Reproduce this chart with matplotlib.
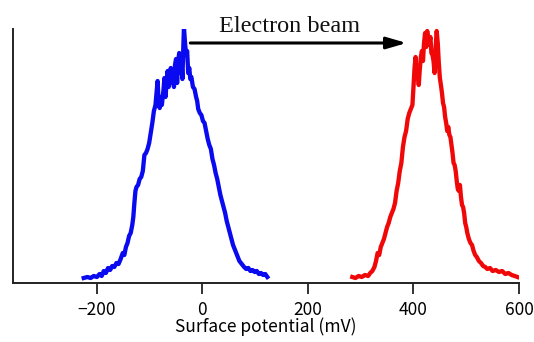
import matplotlib
matplotlib.use("Agg")
import matplotlib.pyplot as plt

blue_x = [-225,-218,-212,-206,-200,-195,-191,-187,-183,-179,-175,-171,-167,-163,-159,-155,-151,-148,-145,-142,-139,-136,-133,-131,-129,-127,-125,-122,-119,-116,-113,-110,-107,-104,-101,-98,-95,-92,-89,-87,-85,-83,-81,-79,-77,-74,-72,-70,-68,-66,-64,-62,-60,-58,-56,-54,-52,-50,-48,-46,-44,-42,-40,-38,-36,-35,-33,-31,-29,-27,-25,-23,-21,-18,-15,-12,-10,-8,-5,-2,1,4,7,10,13,16,19,22,25,28,31,34,37,40,43,46,49,52,55,58,61,64,67,70,73,76,79,83,87,91,95,99,103,107,111,115,119,123]
blue_y = [5,6,5,7,6,9,7,12,10,15,13,17,16,20,19,24,30,28,36,40,47,50,58,66,80,92,96,98,104,106,112,128,130,134,140,150,160,172,178,190,202,180,175,186,178,192,205,186,200,212,196,208,215,200,212,196,218,224,200,222,230,210,225,204,240,255,240,228,232,210,215,204,206,196,194,186,182,174,170,168,162,160,152,144,138,134,124,118,110,104,96,88,82,76,70,62,56,50,44,38,34,30,26,22,20,18,16,14,15,12,13,11,12,9,10,8,9,6]

red_x = [284,290,296,302,308,314,318,322,326,329,332,335,338,341,344,347,350,353,356,359,362,365,368,371,374,377,380,383,386,389,392,395,398,400,402,404,406,408,410,412,414,416,418,420,422,424,426,428,430,432,434,436,438,440,442,444,446,448,450,452,454,456,458,460,462,464,466,468,470,472,474,476,478,480,482,484,486,488,490,492,494,496,498,500,502,505,508,511,514,517,520,524,528,532,536,540,545,550,556,562,568,574,580,586,592,597]
red_y = [6,5,7,6,8,7,10,12,16,22,30,28,36,40,44,50,56,60,66,70,74,80,92,100,112,120,136,146,152,164,170,174,178,196,215,226,205,210,198,214,226,232,222,240,250,236,252,244,238,246,230,228,222,210,236,252,240,220,205,198,190,180,176,166,160,152,156,148,146,138,130,120,118,112,102,94,92,98,86,78,76,70,60,56,50,44,40,38,32,28,26,22,20,17,16,14,15,12,13,11,12,9,10,8,7,6]

xticks = [-200, 0, 200, 400, 600]
xticklabels = ["\u2212200", "0", "200", "400", "600"]
xlabel = "Surface potential (mV)"
annotation = "Electron beam"

plt.rcParams['font.family'] = ['Noto Sans CJK JP', 'DejaVu Sans']

fig = plt.figure(figsize=(5.34, 3.42), dpi=100)
ax = fig.add_axes([12.5/534, 59/342, (519-12.5)/534, (283-29)/342])

ax.plot(blue_x, blue_y, color='#0a0af0', lw=3.1, solid_joinstyle='round')
ax.plot(red_x, red_y, color='#f00808', lw=3.1, solid_joinstyle='round')

ax.set_xlim(-360, 600)
ax.set_ylim(0, 254)
ax.set_xticks(xticks)
ax.set_xticklabels(xticklabels, fontsize=12.5)
ax.set_yticks([])
ax.tick_params(axis='x', direction='out', length=8, width=1.3, color='#222222', pad=5)
for s in ['top', 'right']:
    ax.spines[s].set_visible(False)
for s in ['left', 'bottom']:
    ax.spines[s].set_linewidth(1.4)
    ax.spines[s].set_color('#222222')
ax.set_xlabel(xlabel, fontsize=12.5, labelpad=-1)

ax.annotate('', xy=(387, 240), xytext=(-23, 240),
            arrowprops=dict(arrowstyle='-|>,head_length=1.2,head_width=0.35', color='black', lw=2.2,
                            shrinkA=0, shrinkB=0), annotation_clip=False)
ax.text(166, 246, annotation, family='Liberation Serif', fontsize=17.5, ha='center', va='bottom', color='#111111', clip_on=False)

fig.savefig('out.png', dpi=100)
